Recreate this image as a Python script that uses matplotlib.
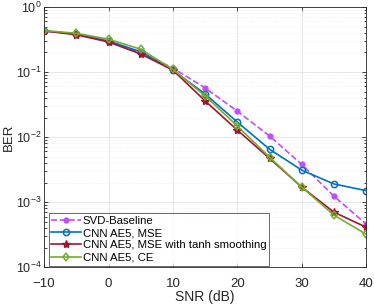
import matplotlib
matplotlib.use("Agg")
import matplotlib.pyplot as plt
from matplotlib.ticker import LogLocator, NullFormatter

plt.rcParams['font.family'] = ['Liberation Sans', 'DejaVu Sans']

snr = [-10, -5, 0, 5, 10, 15, 20, 25, 30, 35, 40]
svd = [0.43, 0.385, 0.30, 0.20, 0.115, 0.057, 0.025, 0.0104, 0.0038, 0.00123, 0.00046]
mse = [0.43, 0.385, 0.30, 0.205, 0.107, 0.046, 0.017, 0.0065, 0.0031, 0.0019, 0.0015]
tanh = [0.43, 0.375, 0.29, 0.19, 0.107, 0.036, 0.0128, 0.0047, 0.0017, 0.00070, 0.00041]
ce = [0.435, 0.395, 0.32, 0.225, 0.11, 0.043, 0.0148, 0.0049, 0.0017, 0.00063, 0.00032]
labels = ['SVD-Baseline', 'CNN AE5, MSE', 'CNN AE5, MSE with tanh smoothing', 'CNN AE5, CE']

fig = plt.figure(figsize=(3.74, 3.07), dpi=100)
ax = fig.add_axes([0.118, 0.130, 0.861, 0.847])

ax.semilogy(snr, svd, '--', color='#C04DFF', marker='o', ms=3.5, mfc='#C04DFF', mec='#C04DFF', lw=1.2, label=labels[0])
ax.semilogy(snr, mse, '-', color='#0072BD', marker='o', ms=4.5, mfc='none', mec='#0072BD', mew=1.1, lw=1.2, label=labels[1])
ax.semilogy(snr, tanh, '-', color='#A2142F', marker='*', ms=6, mfc='#A2142F', mec='#A2142F', lw=1.2, label=labels[2])
ax.semilogy(snr, ce, '-', color='#77AC30', marker='d', ms=4.5, mfc='none', mec='#77AC30', mew=1.1, lw=1.2, label=labels[3])

ax.set_xlim(-10, 40)
ax.set_ylim(1e-4, 1)
ax.set_xticks([-10, 0, 10, 20, 30, 40])
ax.yaxis.set_major_locator(LogLocator(base=10, numticks=10))
ax.yaxis.set_minor_locator(LogLocator(base=10, subs=range(2, 10), numticks=20))
ax.yaxis.set_minor_formatter(NullFormatter())
ax.tick_params(which='both', direction='in', top=True, right=True, labelsize=9.5, colors='#262626', width=0.6)
ax.tick_params(axis='y', labelsize=9, pad=2)
ax.tick_params(which='major', length=3)
ax.tick_params(which='minor', length=1.8)
ax.tick_params(axis='x', pad=8)
ax.grid(True, which='major', color='#e3e3e3', lw=0.6)
ax.grid(True, which='minor', axis='y', color='#e8e8e8', lw=0.5, ls=':')
for s in ax.spines.values():
    s.set_color('#262626')
    s.set_linewidth(0.6)
ax.set_xlabel('SNR (dB)', fontsize=10, color='#262626', labelpad=0)
ax.set_ylabel('BER', fontsize=9.5, color='#262626')
ax.yaxis.set_label_coords(-0.092, 0.5)

leg = ax.legend(loc='lower left', fontsize=8.2, frameon=True, fancybox=False,
                bbox_to_anchor=(0.014, 0.006),borderaxespad=0,
                handlelength=2.6, handletextpad=0.15, borderpad=0.25, labelspacing=0.2)
leg.get_frame().set_edgecolor('#262626')
leg.get_frame().set_linewidth(0.6)

fig.savefig('out.png', dpi=100)
